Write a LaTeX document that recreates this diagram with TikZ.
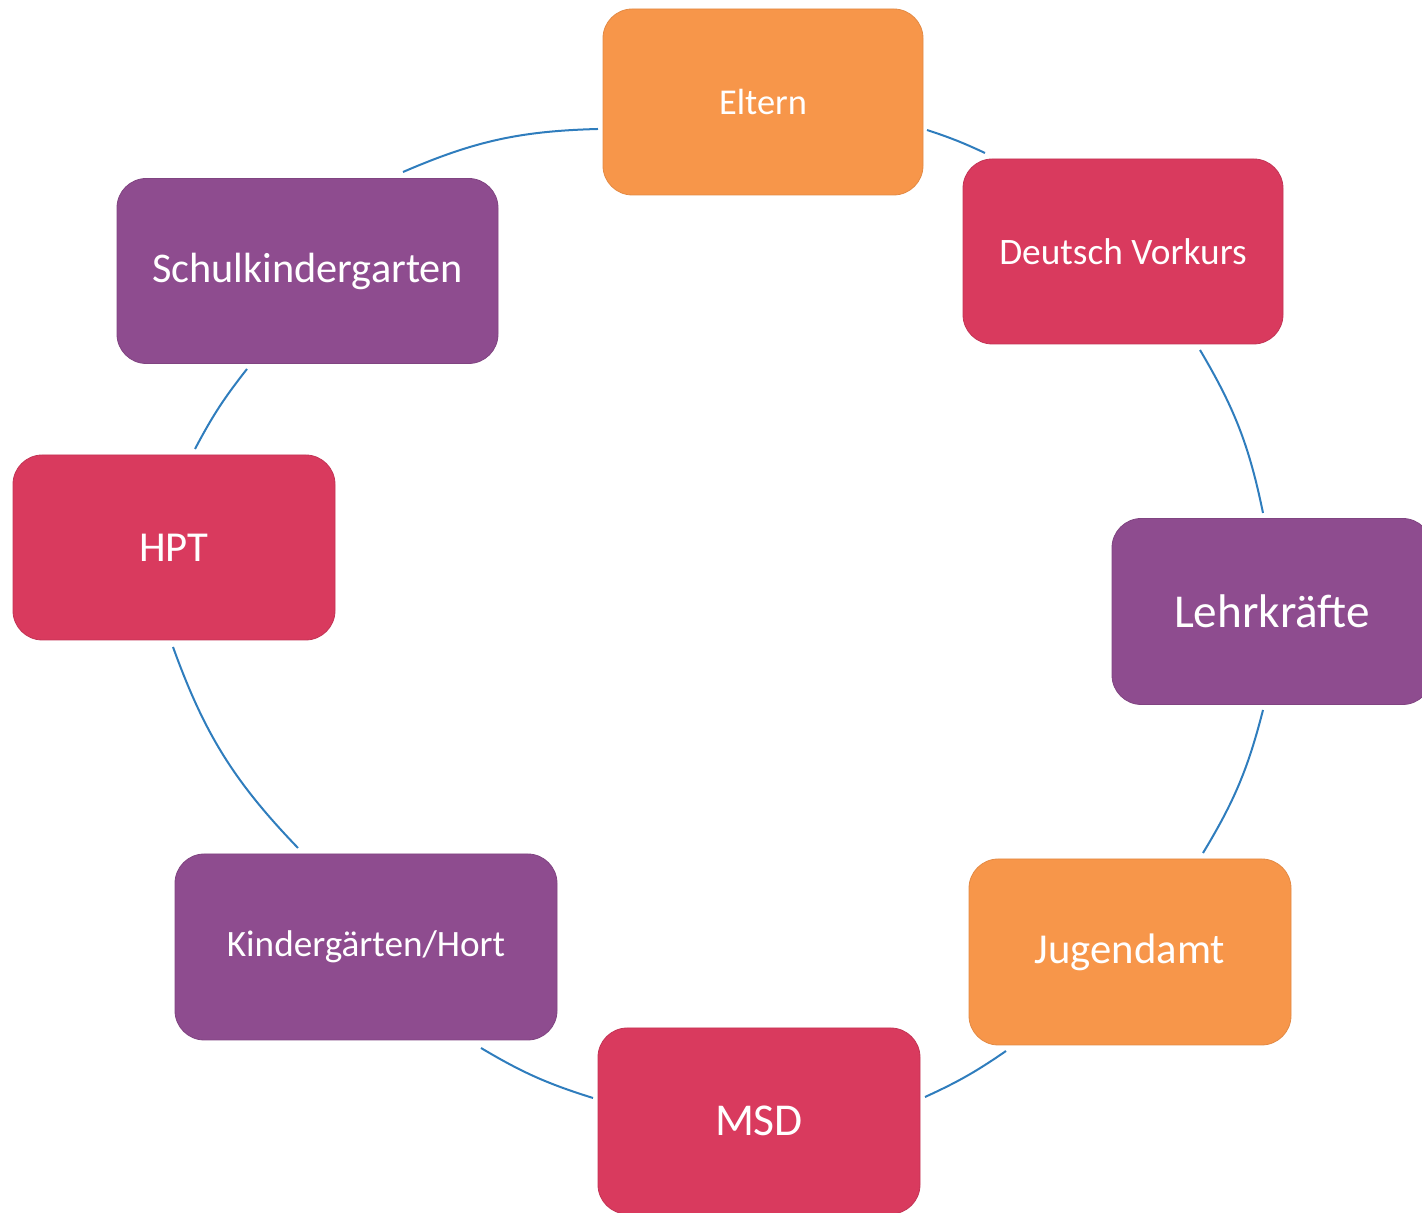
\documentclass[tikz,border=0pt]{standalone}
\usepackage{fontspec}
\setmainfont{Carlito}
\definecolor{corange}{HTML}{F7964A}
\definecolor{cred}{HTML}{D93A5E}
\definecolor{cpurple}{HTML}{8E4C8F}
\definecolor{cline}{HTML}{2F7DBD}
\begin{document}
\begin{tikzpicture}[x=0.75pt,y=0.75pt,
  box/.style={rounded corners=22pt, text=white, inner sep=0pt,
    minimum width=240pt, minimum height=139.5pt},
  obox/.style={box, fill=corange, draw=corange!92!black, line width=0.6pt},
  rbox/.style={box, fill=cred, draw=cred!90!black, line width=0.6pt},
  pbox/.style={box, fill=cpurple, draw=cpurple!90!black, line width=0.6pt},
  conn/.style={draw=cline, line width=1.5pt}]
\useasboundingbox (0,0) rectangle (1422,1213);
\clip (0,0) rectangle (1422,1213);
% boxes
\node[obox, font=\fontsize{27.3}{32}\selectfont] (eltern) at (763,1111) {Eltern};
\node[rbox, minimum height=138.75pt, font=\fontsize{28}{33}\selectfont] (deutsch) at (1123,961.5) {Deutsch Vorkurs};
\node[pbox, font=\fontsize{35.4}{41}\selectfont] (lehr) at (1272,601.5) {Lehrkräfte};
\node[obox, minimum width=241.5pt, font=\fontsize{32}{37}\selectfont] (jugend) at (1130,261) {Jugendamt};
\node[rbox, minimum width=241.5pt, font=\fontsize{34.2}{40}\selectfont] (msd) at (759,92) {MSD};
\node[pbox, minimum width=286.5pt, font=\fontsize{27.9}{33}\selectfont] (kinder) at (366,266) {Kindergärten/Hort};
\node[rbox, minimum width=241.5pt, minimum height=138.75pt, font=\fontsize{32}{37}\selectfont] (hpt) at (174,665.5) {HPT};
\node[pbox, minimum width=285.75pt, minimum height=138.75pt, font=\fontsize{31.7}{37}\selectfont] (schul) at (307.5,942) {Schulkindergarten};
% arc end points
\coordinate (e1) at (598,1084);
\coordinate (s1) at (403,1041);
\coordinate (s2) at (247,844);
\coordinate (h1) at (195,764);
\coordinate (h2) at (173,566);
\coordinate (k1) at (298,365);
\coordinate (k2) at (481,165);
\coordinate (m1) at (593,115);
\coordinate (m2) at (925,116);
\coordinate (j1) at (1006,162);
\coordinate (j2) at (1203,360);
\coordinate (l1) at (1263,503);
\coordinate (l2) at (1263,700);
\coordinate (d1) at (1200,863);
\coordinate (d2) at (985,1060);
\coordinate (e2) at (927,1083);
% connectors (clockwise)
\draw[conn] (e2) to[bend left=3.4] (d2);
\draw[conn] (d1) to[bend left=9.5] (l2);
\draw[conn] (l1) to[bend left=8.4] (j2);
\draw[conn] (j1) to[bend left=5] (m2);
\draw[conn] (m1) to[bend left=6.7] (k2);
\draw[conn] (k1) to[bend left=12] (h2);
\draw[conn] (h1) to[bend left=5.2] (s2);
\draw[conn] (s1) to[bend left=10.9] (e1);
\end{tikzpicture}
\end{document}
